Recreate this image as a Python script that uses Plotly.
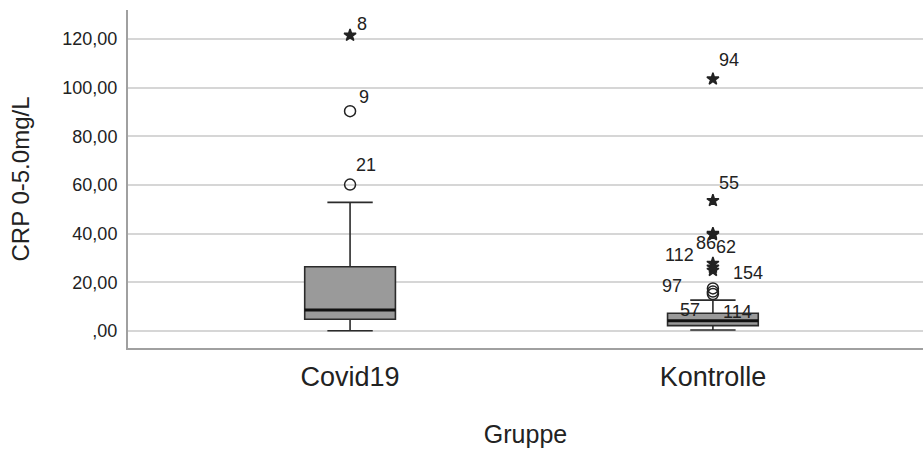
import plotly.graph_objects as go

# Group positions on the x axis and their labels
groups = ["Covid19", "Kontrolle"]
group_pos = [0, 1]

# Box statistics per group (CRP, mg/L)
q1 = [4.8, 2.2]
median = [8.6, 4.2]
q3 = [26.4, 7.3]
lower_fence = [0.1, 0.4]
upper_fence = [52.9, 12.7]

# Outliers (circles) and extreme values (stars) with case numbers
covid_out_val = [90.4, 60.2]
covid_out_id = ["9", "21"]
covid_ext_val = [121.6]
covid_ext_id = ["8"]

ktrl_out_val = [17.5, 16.2, 15.2]
ktrl_out_id = ["97", "57", "114"]
ktrl_ext_val = [103.6, 53.6, 40.1, 39.6, 27.8, 26.2, 24.9]
ktrl_ext_id = ["94", "55", "86", "62", "112", "", "154"]

y_ticks = [0, 20, 40, 60, 80, 100, 120]
y_ticktext = [",00", "20,00", "40,00", "60,00", "80,00", "100,00", "120,00"]

FONT = "Liberation Sans, Arial, sans-serif"
INK = "#222222"

# Case-number label offsets in pixels (dx, dy), keyed by case id
label_offset = {
    "8": (12, 11), "9": (14, 14), "21": (16, 20),
    "94": (16, 19), "55": (16, 18), "86": (-7, -10), "62": (13, -12),
    "112": (-33, 8), "154": (35, -3), "97": (-41, 2), "57": (-23, -18),
    "114": (25, -18),
}

fig = go.Figure()

for i, g in enumerate(groups):
    fig.add_trace(go.Box(
        x=[group_pos[i]], q1=[q1[i]], median=[median[i]], q3=[q3[i]],
        lowerfence=[lower_fence[i]], upperfence=[upper_fence[i]],
        width=0.25, whiskerwidth=0.5,
        fillcolor="#9a9a9a", line=dict(color="#2b2b2b", width=1.6),
        name=g, showlegend=False, hoverinfo="skip",
    ))

# Median emphasised as a heavier line
for i in range(len(groups)):
    fig.add_trace(go.Scatter(
        x=[group_pos[i] - 0.125, group_pos[i] + 0.125], y=[median[i], median[i]],
        mode="lines", line=dict(color="#111111", width=3), showlegend=False,
        hoverinfo="skip",
    ))


def add_points(xpos, vals, ids, symbol, size):
    fig.add_trace(go.Scatter(
        x=[xpos] * len(vals), y=vals, mode="markers",
        marker=dict(symbol=symbol, size=size, color=INK,
                    line=dict(color=INK, width=1.5)),
        showlegend=False, cliponaxis=False, hoverinfo="skip",
    ))
    for v, cid in zip(vals, ids):
        if not cid:
            continue
        dx, dy = label_offset[cid]
        fig.add_annotation(
            x=xpos, y=v, text=cid, showarrow=False, xshift=dx, yshift=dy,
            font=dict(family=FONT, size=18, color=INK),
        )


add_points(0, covid_ext_val, covid_ext_id, "star", 9)
add_points(0, covid_out_val, covid_out_id, "circle-open", 11)
add_points(1, ktrl_ext_val, ktrl_ext_id, "star", 9)
add_points(1, ktrl_out_val, ktrl_out_id, "circle-open", 11)

fig.update_layout(
    width=923, height=455,
    margin=dict(l=128, r=0, t=10, b=107),
    plot_bgcolor="white", paper_bgcolor="white",
    font=dict(family=FONT, color=INK),
    xaxis=dict(
        range=[-0.612, 1.579], tickvals=group_pos, ticktext=groups,
        tickfont=dict(size=27, family=FONT), showgrid=False, zeroline=False,
        showline=True, linecolor="#a0a0a0", linewidth=2, ticks="",
        ticklabelstandoff=4,
        title=dict(text="Gruppe", font=dict(size=25, family=FONT), standoff=34),
    ),
    yaxis=dict(
        range=[-7, 132], tickvals=y_ticks, ticktext=y_ticktext,
        tickfont=dict(size=18, family=FONT), showgrid=True,
        gridcolor="#d6d6d6", gridwidth=2, zeroline=False,
        showline=True, linecolor="#a0a0a0", linewidth=2,
        ticks="", ticklabelstandoff=5,
        title=dict(text="CRP 0-5.0mg/L", font=dict(size=24, family=FONT), standoff=26),
    ),
)

fig.write_html("out.html")
